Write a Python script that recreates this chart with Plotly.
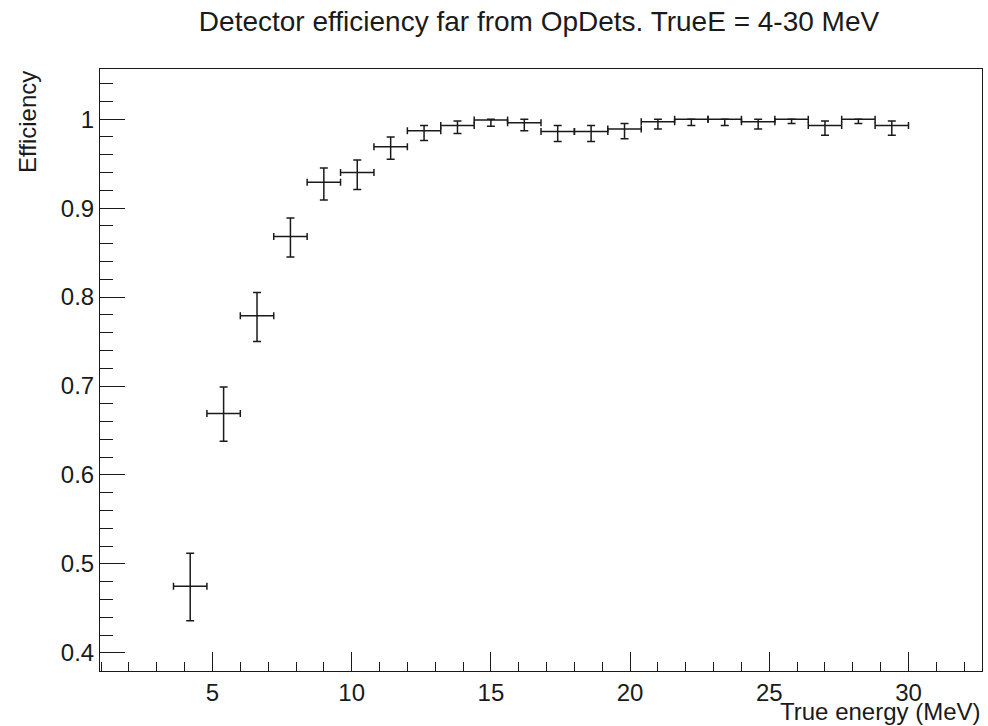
import plotly.graph_objects as go

# Bin centres (MeV) and half-widths
energy = [4.2, 5.4, 6.6, 7.8, 9.0, 10.2, 11.4, 12.6, 13.8, 15.0, 16.2,
          17.4, 18.6, 19.8, 21.0, 22.2, 23.4, 24.6, 25.8, 27.0, 28.2, 29.4]
energy_halfwidth = [0.6] * 22

efficiency = [0.475, 0.669, 0.779, 0.868, 0.929, 0.940, 0.969, 0.987, 0.993, 0.999, 0.996,
              0.986, 0.986, 0.989, 0.997, 1.000, 1.000, 0.997, 1.000, 0.993, 1.000, 0.993]
err_up = [0.037, 0.030, 0.026, 0.021, 0.016, 0.014, 0.011, 0.006, 0.005, 0.001, 0.004,
          0.007, 0.007, 0.006, 0.003, 0.000, 0.000, 0.003, 0.000, 0.005, 0.000, 0.005]
err_down = [0.039, 0.031, 0.029, 0.023, 0.020, 0.019, 0.014, 0.011, 0.009, 0.007, 0.009,
            0.011, 0.011, 0.011, 0.008, 0.007, 0.007, 0.008, 0.005, 0.011, 0.005, 0.011]

x_tickvals = [5, 10, 15, 20, 25, 30]
x_ticktext = ["5", "10", "15", "20", "25", "30"]
y_tickvals = [0.4, 0.5, 0.6, 0.7, 0.8, 0.9, 1.0]
y_ticktext = ["0.4", "0.5", "0.6", "0.7", "0.8", "0.9", "1"]

FONT = "Liberation Sans, Arial, Helvetica, sans-serif"
INK = "#1a1a1a"
TICK_SIZE = 24
AXT_SIZE = 24
TITLE_SIZE = 28

fig = go.Figure()
fig.add_trace(go.Scatter(
    x=energy, y=efficiency, mode="markers",
    marker=dict(size=1, color=INK),
    error_x=dict(type="data", array=energy_halfwidth, symmetric=True,
                 color=INK, thickness=1.5, width=3.5),
    error_y=dict(type="data", array=err_up, arrayminus=err_down, symmetric=False,
                 color=INK, thickness=1.5, width=4),
    showlegend=False, hoverinfo="x+y",
))

L, R, T, B = 100, 6, 69, 55
W, H = 988, 726
pw, ph = W - L - R, H - T - B

def px_x(px):
    return (px - L) / pw

def px_y(py):
    return (H - B - py) / ph

fig.update_layout(
    width=W, height=H,
    margin=dict(l=L, r=R, t=T, b=B, pad=0),
    paper_bgcolor="white", plot_bgcolor="white",
    font=dict(family=FONT, size=TICK_SIZE, color=INK),
    title=dict(text="Detector efficiency far from OpDets. TrueE = 4-30 MeV",
               x=539 / W, xanchor="center", xref="container",
               y=1 - 21 / H, yanchor="middle", yref="container",
               font=dict(family=FONT, size=TITLE_SIZE, color=INK)),
    xaxis=dict(range=[0.96, 32.64], showgrid=False, zeroline=False,
               showline=True, linecolor=INK, linewidth=1, mirror=True,
               ticks="inside", ticklen=19, tickwidth=1, tickcolor=INK,
               tickvals=x_tickvals, ticktext=x_ticktext,
               tickfont=dict(family=FONT, size=TICK_SIZE, color=INK),
               minor=dict(ticks="inside", ticklen=9, dtick=1, tick0=0,
                          tickcolor=INK, tickwidth=1, showgrid=False)),
    yaxis=dict(range=[0.3796, 1.0564], showgrid=False, zeroline=False,
               showline=True, linecolor=INK, linewidth=1, mirror=True,
               ticks="inside", ticklen=25, tickwidth=1, tickcolor=INK,
               tickvals=y_tickvals, ticktext=y_ticktext,
               tickfont=dict(family=FONT, size=TICK_SIZE, color=INK),
               minor=dict(ticks="inside", ticklen=13, dtick=0.02, tick0=0,
                          tickcolor=INK, tickwidth=1, showgrid=False)),
    annotations=[
        dict(text="True energy (MeV)", xref="paper", yref="paper",
             x=px_x(983), y=px_y(711), xanchor="right", yanchor="middle",
             showarrow=False, font=dict(family=FONT, size=AXT_SIZE, color=INK)),
        dict(text="Efficiency", xref="paper", yref="paper",
             x=px_x(27), y=px_y(69), xanchor="center", yanchor="top",
             textangle=-90, showarrow=False,
             font=dict(family=FONT, size=AXT_SIZE, color=INK)),
    ],
)

fig.write_html("out.html")
